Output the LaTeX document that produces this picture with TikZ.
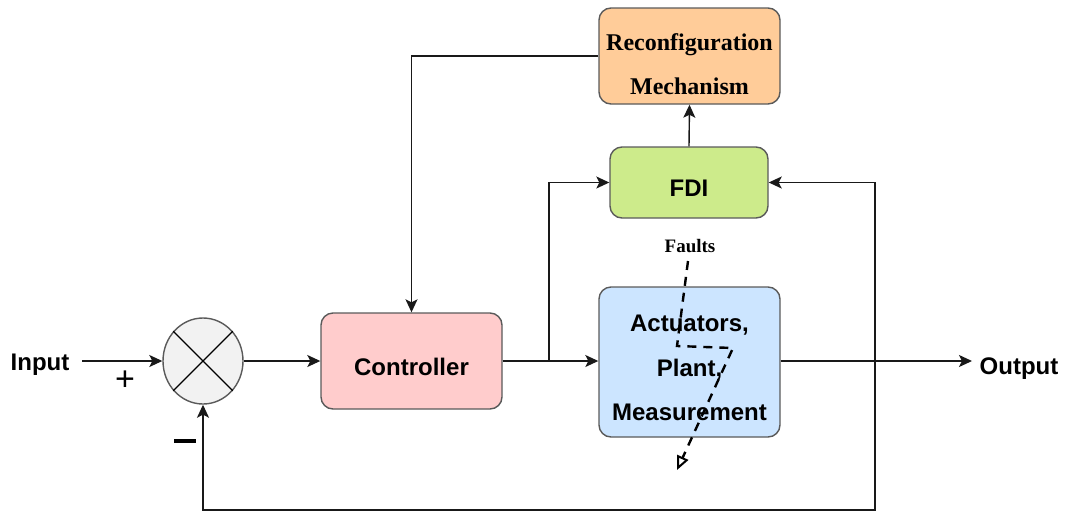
\documentclass[tikz,border=0pt]{standalone}
\usepackage{fontspec}
\setmainfont{Liberation Sans}
\newfontfamily\serifbold{Liberation Serif}
\usetikzlibrary{arrows.meta,shapes.geometric,calc}
\definecolor{reconfFill}{HTML}{FFCC99}
\definecolor{fdiFill}{HTML}{CDEB8B}
\definecolor{ctrlFill}{HTML}{FFCCCC}
\definecolor{plantFill}{HTML}{CCE5FF}
\definecolor{sumFill}{HTML}{F2F2F2}
\definecolor{edgeGray}{HTML}{5A5A5A}
\tikzset{
  blk/.style={draw=edgeGray, line width=1.4pt, rounded corners=12pt, inner sep=0pt},
  blktext/.style={font=\fontsize{24}{28}\selectfont\bfseries, align=center},
  wire/.style={draw=black!90, line width=1.4pt},
  arr/.style={wire, -{Stealth[length=13pt,width=12pt,inset=3pt]}},
  lbl/.style={font=\fontsize{24}{28}\selectfont\bfseries}
}
\begin{document}
\begin{tikzpicture}[x=1pt,y=-1pt]
\useasboundingbox (0,0) rectangle (1065,512);

% blocks (text placed slightly below the geometric centre)
\node[blk, fill=reconfFill, minimum width=181pt, minimum height=96pt,
      label={[blktext, font=\serifbold\fontsize{24}{44}\selectfont\bfseries, yshift=-8pt]center:Reconfiguration\\Mechanism}]
      (reconf) at (689.5,56) {};
\node[blk, fill=fdiFill, minimum width=158pt, minimum height=71pt,
      label={[blktext, yshift=-6pt]center:FDI}] (fdi) at (689,182.5) {};
\node[blk, fill=ctrlFill, minimum width=181pt, minimum height=96pt,
      label={[blktext, yshift=-6pt]center:Controller}] (ctrl) at (411.5,361) {};
\node[blk, fill=plantFill, minimum width=181pt, minimum height=150pt,
      label={[blktext, font=\fontsize{24}{44.5}\selectfont\bfseries, yshift=-6pt]center:Actuators,\\Plant,\\Measurement}]
      (plant) at (689.5,362) {};

% summing junction
\node[ellipse, draw=edgeGray, line width=1.4pt, fill=sumFill, minimum width=80pt,
      minimum height=86pt, inner sep=0pt] (sum) at (203,361) {};
\draw[line width=1.3pt] (sum.45) -- (sum.225) (sum.135) -- (sum.315);

% labels
\node[lbl] (inlbl) at (40,365) {Input};
\node[lbl] (outlbl) at (1019,369) {Output};
\node[font=\fontsize{34}{34}\selectfont] (plus) at (125,381) {+};
\node[fill=black, minimum width=22pt, minimum height=3.5pt, inner sep=0pt] (minus) at (185,441) {};
\node[font=\serifbold\fontsize{19}{19}\selectfont\bfseries] (faults) at (690,246) {Faults};

% junction points
\coordinate (inStart) at (82,361);
\coordinate (split) at (549,361);
\coordinate (tap) at (875,361);
\coordinate (outEnd) at (972,361);
\coordinate (bottom) at (875,510);

% forward path
\draw[arr] (inStart) -- (sum.west);
\draw[arr] (sum.east) -- (ctrl.west);
\draw[arr] (ctrl.east) -- (plant.west |- ctrl.east);
\draw[arr] (plant.east |- tap) -- (outEnd);

% supervision paths
\draw[arr] (split) |- (fdi.west);
\draw[arr] (tap) |- (fdi.east);
\draw[arr] (fdi.north) -- (reconf.south);
\draw[arr] (reconf.west) -| (ctrl.north);

% feedback
\draw[arr] (tap) -- (bottom) -| (sum.south);

% fault injection
\coordinate (f0) at (688,261);
\coordinate (f1) at (677,346);
\coordinate (f2) at (733,348);
\coordinate (f3) at (677,470);
\draw[line width=2.4pt, dash pattern=on 9pt off 7pt,
      -{Triangle[open,length=14pt,width=12pt,line width=2pt]}]
      (f0) -- (f1) -- (f2) -- (f3);
\end{tikzpicture}
\end{document}
